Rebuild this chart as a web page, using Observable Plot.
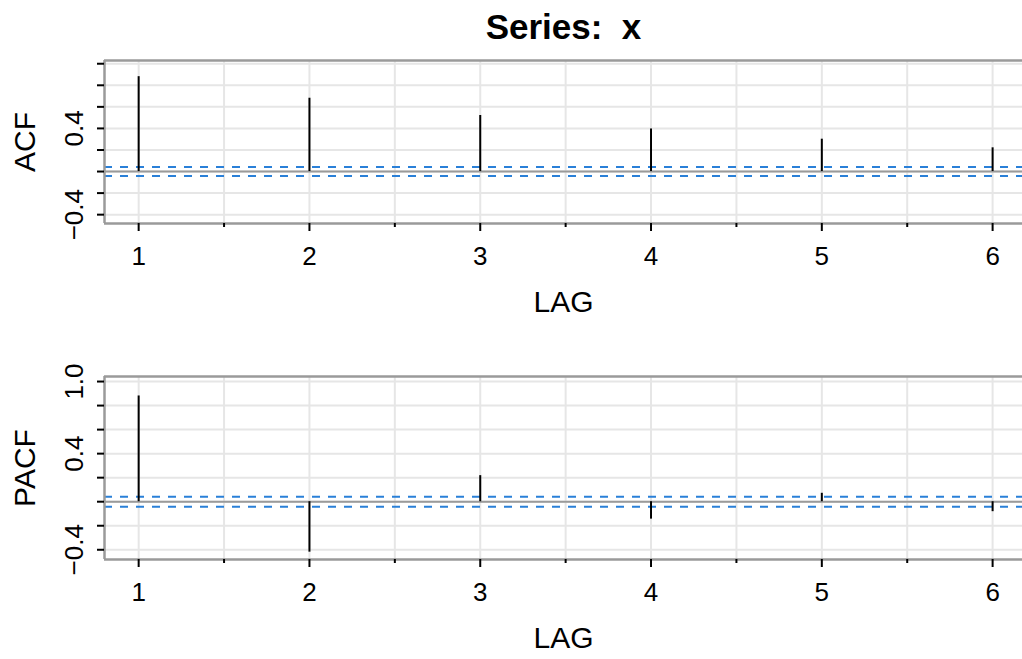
<!DOCTYPE html>
<html>
<head>
<meta charset="utf-8">
<script src="https://cdn.jsdelivr.net/npm/d3@7"></script>
<script src="https://cdn.jsdelivr.net/npm/@observablehq/plot@0.6"></script>
<style>
  body { margin: 0; background: #fff; overflow: hidden; width: 1022px; height: 659px; }
  svg { display: block; }
</style>
</head>
<body>
<div id="chart"></div>
<script>
// ---- data ----
const lags = [1, 2, 3, 4, 5, 6];
const acfValues = [0.88, 0.68, 0.52, 0.395, 0.30, 0.22];
const pacfValues = [0.88, -0.42, 0.217, -0.145, 0.07, -0.083];
const confBound = 0.042;
const title = "Series:  x";
const xLabel = "LAG";
const halfLags = [1.5, 2.5, 3.5, 4.5, 5.5];
const gridXValues = [1, 1.5, 2, 2.5, 3, 3.5, 4, 4.5, 5, 5.5, 6];
const yTickValues = [-0.4, -0.2, 0, 0.2, 0.4, 0.6, 0.8, 1.0];
const acfTickLabels = [{v: -0.4, t: "\u22120.4"}, {v: 0.4, t: "0.4"}];
const pacfTickLabels = [{v: -0.4, t: "\u22120.4"}, {v: 0.4, t: "0.4"}, {v: 1.0, t: "1.0"}];

const font = "'Liberation Sans', Arial, Helvetica, sans-serif";
const frameGray = "#9a9a9a";
const gridGray = "#e6e6e6";
const blue = "#2a80d8";
const xDomain = [0.8, 6.175];

function panel({values, yLabel, yDomain, tickLabels, height, marginTop, marginBottom, withTitle}) {
  const data = lags.map((lag, i) => ({lag, value: values[i]}));
  const marks = [
    Plot.gridX(gridXValues, {stroke: gridGray, strokeOpacity: 1, strokeWidth: 2}),
    Plot.gridY(yTickValues, {stroke: gridGray, strokeOpacity: 1, strokeWidth: 2}),
    Plot.ruleY([0], {stroke: frameGray, strokeWidth: 2}),
    Plot.ruleY([confBound, -confBound], {stroke: blue, strokeWidth: 2, strokeDasharray: "8,8"}),
    Plot.ruleX(data, {x: "lag", y1: 0, y2: "value", stroke: "black", strokeWidth: 2}),
    // frame (left, top, bottom)
    Plot.ruleY([yDomain[0], yDomain[1]], {stroke: frameGray, strokeWidth: 2.5}),
    Plot.ruleX([xDomain[0]], {stroke: frameGray, strokeWidth: 2.5}),
    // axes ticks
    Plot.axisX(lags, {tickSize: 8, strokeWidth: 2, stroke: "black", tickFormat: () => "", label: null}),
    Plot.axisX(halfLags, {tickSize: 4, strokeWidth: 2, stroke: "black", tickFormat: () => "", label: null}),
    Plot.axisY(yTickValues, {tickSize: 7, strokeWidth: 2, stroke: "black", tickFormat: () => "", label: null}),
    // tick labels
    Plot.text(lags, {x: d => d, frameAnchor: "bottom", dy: 33, text: d => String(d), fontSize: 26, fill: "black", lineAnchor: "middle"}),
    Plot.text(tickLabels, {y: "v", text: "t", frameAnchor: "left", dx: -30, rotate: -90, fontSize: 26, fill: "black", textAnchor: "middle", lineAnchor: "middle"}),
    // axis labels
    Plot.text([xLabel], {frameAnchor: "bottom", dy: 79, text: d => d, fontSize: 30, fill: "black", lineAnchor: "middle"}),
    Plot.text([yLabel], {frameAnchor: "left", dx: -79, text: d => d, rotate: -90, fontSize: 30, fill: "black", textAnchor: "middle", lineAnchor: "middle"})
  ];
  if (withTitle) {
    marks.push(Plot.text([title], {frameAnchor: "top", dy: -33, text: d => d, fontSize: 35, fontWeight: "bold", fill: "black", lineAnchor: "middle"}));
  }
  return Plot.plot({
    width: 1022,
    height,
    marginLeft: 104,
    marginRight: 0,
    marginTop,
    marginBottom,
    style: {fontFamily: font, background: "white", overflow: "visible"},
    x: {domain: xDomain, axis: null},
    y: {domain: yDomain, axis: null},
    marks
  });
}

const chart = document.getElementById("chart");
chart.appendChild(panel({values: acfValues, yLabel: "ACF", yDomain: [-0.482, 1.03], tickLabels: acfTickLabels, height: 330, marginTop: 60, marginBottom: 107, withTitle: true}));
chart.appendChild(panel({values: pacfValues, yLabel: "PACF", yDomain: [-0.481, 1.042], tickLabels: pacfTickLabels, height: 329, marginTop: 46, marginBottom: 100, withTitle: false}));
</script>
</body>
</html>
